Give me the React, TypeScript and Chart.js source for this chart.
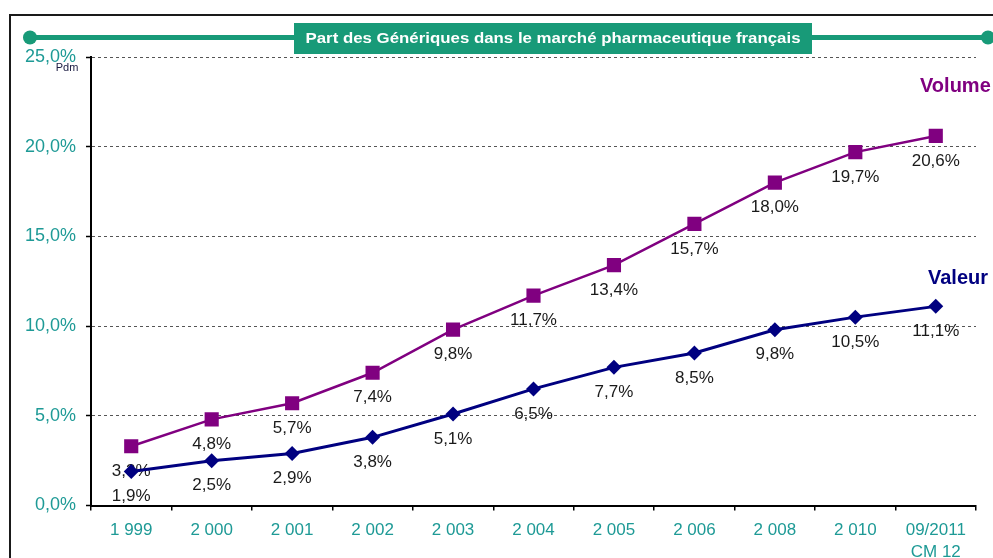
import React, { useEffect, useRef } from "react";
import { Chart, registerables } from "chart.js";

Chart.register(...registerables);

const categories: (string | string[])[] = [
  "1 999", "2 000", "2 001", "2 002", "2 003", "2 004", "2 005", "2 006", "2 008", "2 010", ["09/2011", "CM 12"],
];
const volumeValues = [3.3, 4.8, 5.7, 7.4, 9.8, 11.7, 13.4, 15.7, 18.0, 19.7, 20.6];
const valeurValues = [1.9, 2.5, 2.9, 3.8, 5.1, 6.5, 7.7, 8.5, 9.8, 10.5, 11.1];
const titleText = "Part des Génériques dans le marché pharmaceutique français";
const yMin = 0;
const yMax = 25;
const yStep = 5;

const FONT = "'Liberation Sans', Arial, sans-serif";
const TEAL = "#1e9a96";
const GREEN = "#189a78";

const fmt = (v: number) => v.toFixed(1).replace(".", ",") + "%";

const decorPlugin = {
  id: "decor",
  beforeDraw(chart: any) {
    const ctx = chart.ctx;
    ctx.save();
    // outer frame
    ctx.strokeStyle = "#1a1a1a";
    ctx.lineWidth = 2;
    ctx.beginPath();
    ctx.moveTo(10, 558);
    ctx.lineTo(10, 15);
    ctx.lineTo(993, 15);
    ctx.stroke();
    // title line
    ctx.strokeStyle = GREEN;
    ctx.fillStyle = GREEN;
    ctx.lineWidth = 5;
    ctx.beginPath();
    ctx.moveTo(30, 37.5);
    ctx.lineTo(988, 37.5);
    ctx.stroke();
    ctx.beginPath();
    ctx.arc(30, 37.5, 7, 0, Math.PI * 2);
    ctx.fill();
    ctx.beginPath();
    ctx.arc(988, 37.5, 7, 0, Math.PI * 2);
    ctx.fill();
    // title box
    ctx.fillRect(294, 23, 518, 31);
    ctx.fillStyle = "#ffffff";
    ctx.font = `bold 15px ${FONT}`;
    ctx.textAlign = "center";
    ctx.textBaseline = "middle";
    const w = ctx.measureText(titleText).width;
    const sx = 495 / w;
    ctx.translate(553, 39);
    ctx.scale(sx, 1);
    ctx.fillText(titleText, 0, 0);
    ctx.restore();

    ctx.save();
    ctx.fillStyle = "#1a1a40";
    ctx.font = `11px ${FONT}`;
    ctx.textAlign = "center";
    ctx.textBaseline = "middle";
    ctx.fillText("Pdm", 67, 68);
    ctx.restore();
  },
  beforeDatasetsDraw(chart: any) {
    const ctx = chart.ctx;
    ctx.save();
    ctx.fillStyle = "#1a1a1a";
    ctx.font = `17px ${FONT}`;
    ctx.textAlign = "center";
    ctx.textBaseline = "middle";
    chart.data.datasets.forEach((ds: any, i: number) => {
      const meta = chart.getDatasetMeta(i);
      meta.data.forEach((pt: any, j: number) => {
        ctx.fillText(fmt(ds.data[j]), pt.x, pt.y + 25);
      });
    });
    ctx.restore();
  },
  afterDraw(chart: any) {
    const ctx = chart.ctx;
    ctx.save();
    ctx.font = `bold 20px ${FONT}`;
    ctx.textAlign = "left";
    ctx.textBaseline = "middle";
    ctx.fillStyle = "#800080";
    ctx.fillText("Volume", 920, 86);
    ctx.fillStyle = "#000080";
    ctx.fillText("Valeur", 928, 278);
    ctx.restore();
  },
};

export default function App() {
  const ref = useRef<HTMLCanvasElement>(null);
  useEffect(() => {
    if (!ref.current) return;
    const chart = new Chart(ref.current, {
      type: "line",
      data: {
        labels: categories as any,
        datasets: [
          {
            label: "Valeur",
            data: valeurValues,
            borderColor: "#000080",
            backgroundColor: "#000080",
            borderWidth: 3,
            pointStyle: "rectRot",
            pointRadius: 7.5,
            pointBorderWidth: 0,
            tension: 0,
          },
          {
            label: "Volume",
            data: volumeValues,
            borderColor: "#800080",
            backgroundColor: "#800080",
            borderWidth: 2.5,
            pointStyle: "rect",
            pointRadius: 10,
            pointBorderWidth: 0,
            tension: 0,
          },
        ],
      },
      options: {
        responsive: false,
        animation: false,
        events: [],
        layout: { padding: { top: 57, right: 17, left: 0, bottom: 0 } },
        plugins: { legend: { display: false }, tooltip: { enabled: false }, title: { display: false } },
        scales: {
          x: {
            offset: true,
            afterFit: (s: any) => { s.height = 52.5; },
            grid: {
              offset: true,
              drawOnChartArea: false,
              drawTicks: true,
              tickLength: 5,
              color: "#000000",
              lineWidth: 1.5,
            },
            border: { display: true, color: "#000000", width: 2 },
            ticks: {
              color: TEAL,
              font: { family: FONT, size: 17, lineHeight: 1.3 },
              padding: 9,
              maxRotation: 0,
              autoSkip: false,
            },
          },
          y: {
            min: yMin,
            max: yMax,
            afterFit: (s: any) => { s.width = 91; },
            grid: {
              color: "#555555",
              lineWidth: 1,
              tickLength: 5,
              tickColor: "#000000",
              tickWidth: 1.5,
              drawTicks: true,
            },
            border: { display: true, color: "#000000", width: 2, dash: [3, 3] },
            ticks: {
              stepSize: yStep,
              color: TEAL,
              font: { family: FONT, size: 18 },
              padding: 10,
              callback: (v: any) => fmt(Number(v)),
            },
          },
        },
      },
      plugins: [decorPlugin],
    });
    return () => chart.destroy();
  }, []);
  return (
    <div style={{ position: "absolute", left: 0, top: 0, width: 993, height: 558, background: "#fff" }}>
      <canvas ref={ref} width={993} height={558} style={{ width: 993, height: 558 }} />
    </div>
  );
}
